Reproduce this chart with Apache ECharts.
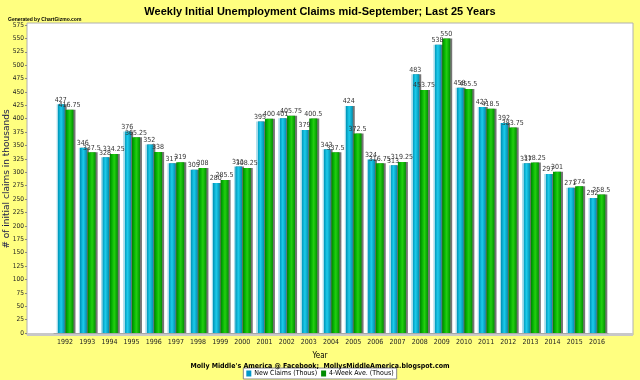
<!DOCTYPE html>
<html>
<head>
<meta charset="utf-8">
<script src="https://cdn.jsdelivr.net/npm/echarts@6/dist/echarts.min.js"></script>
<style>html,body{margin:0;padding:0;background:#ffff80;}#c{width:640px;height:380px;}</style>
</head>
<body>
<div id="c"></div>
<script>
var years = ['1992','1993','1994','1995','1996','1997','1998','1999','2000','2001','2002','2003','2004','2005','2006','2007','2008','2009','2010','2011','2012','2013','2014','2015','2016'];
var newClaims = [427,346,328,376,352,317,305,280,311,395,401,379,343,424,324,313,483,538,458,422,392,317,297,271,252];
var fourWeekAvg = [416.75,337.5,334.25,365.25,338,319,308,285.5,308.25,400,405.75,400.5,337.5,372.5,316.75,319.25,453.75,550,455.5,418.5,383.75,318.25,301,274,258.5];
var seriesNames = ['New Claims (Thous)','4-Week Ave. (Thous)'];

var chart = echarts.init(document.getElementById('c'), null, {renderer:'canvas'});
var blueGrad = new echarts.graphic.LinearGradient(0,0,1,0,[
  {offset:0,color:'#a8dcea'},{offset:0.18,color:'#a8dcea'},{offset:0.2,color:'#0098bb'},
  {offset:0.55,color:'#1ccbeb'},{offset:1,color:'#0090b0'}]);
var greenGrad = new echarts.graphic.LinearGradient(0,0,1,0,[
  {offset:0,color:'#007f00'},{offset:0.2,color:'#00a800'},
  {offset:0.55,color:'#22d010'},{offset:1,color:'#009000'}]);
var lbl = {show:true, position:'top', distance:1, fontSize:7, color:'#333', fontFamily:'DejaVu Sans Condensed'};
chart.setOption({
  backgroundColor:'#ffff80',
  animation:false,
  title:[{text:'Weekly Initial Unemployment Claims mid-September; Last 25 Years', left:'center', top:1,
    textStyle:{fontSize:11, fontWeight:'bold', color:'#000', fontFamily:'Liberation Sans'}},
    {text:'Generated by ChartGizmo.com', left:3, top:12, textStyle:{fontSize:5, fontWeight:'bold', color:'#000', fontFamily:'Liberation Sans'}},
    {text:'Year', left:'center', top:347, textStyle:{fontSize:8, fontWeight:'normal', color:'#000', fontFamily:'DejaVu Sans Condensed'}},
    {text:"Molly Middle's America @ Facebook;  MollysMiddleAmerica.blogspot.com", left:'center', top:358,
      textStyle:{fontSize:7, fontWeight:'bold', color:'#000', fontFamily:'DejaVu Sans Condensed'}}],
  graphic:[{type:'rect', z:-10, silent:true, shape:{x:27,y:23,width:606,height:312}, style:{fill:'#fff', stroke:'#b0b0b0', lineWidth:1}},
           {type:'rect', z:-9, silent:true, shape:{x:27,y:333,width:606,height:3}, style:{fill:'#c8c8c8'}}],
  legend:{bottom:1, left:'center', itemWidth:5, itemHeight:6, itemGap:4, padding:[2,3],
    backgroundColor:'#fff', borderColor:'#888', borderWidth:1,
    textStyle:{fontSize:7, color:'#000', fontFamily:'DejaVu Sans Condensed', padding:[0,0,0,-2]},
    data:[{name:seriesNames[0], icon:'rect', itemStyle:{color:'#0098c8'}},{name:seriesNames[1], icon:'rect', itemStyle:{color:'#008c00'}}]},
  grid:{left:54, right:32, top:25, bottom:47, containLabel:false, outerBoundsMode:'none'},
  xAxis:{type:'category', data:years,
    axisLine:{show:true, lineStyle:{color:'#a8a8a8', width:1}}, axisTick:{show:false},
    axisLabel:{fontSize:7, color:'#222', margin:6, fontFamily:'DejaVu Sans Condensed'}},
  yAxis:{type:'value', min:0, max:575, interval:25, offset:27,
    axisLine:{show:false}, axisTick:{show:true, length:2, lineStyle:{color:'#888'}},
    splitLine:{show:false},
    axisLabel:{fontSize:6.5, color:'#222', margin:3, fontFamily:'DejaVu Sans Condensed'},
    name:'# of initial claims in thousands', nameLocation:'middle', nameGap:20, nameRotate:90, nameMoveOverlap:false,
    nameTextStyle:{fontSize:9, color:'#1a1a4a', fontFamily:'DejaVu Sans', verticalAlign:'middle'}},
  series:[
    {name:seriesNames[0], type:'bar', data:newClaims, barWidth:8, barGap:'10%',
     itemStyle:{color:blueGrad, shadowColor:'rgba(70,70,70,0.75)', shadowOffsetX:2, shadowOffsetY:0, shadowBlur:0},
     label:lbl},
    {name:seriesNames[1], type:'bar', data:fourWeekAvg, barWidth:8,
     itemStyle:{color:greenGrad, shadowColor:'rgba(70,70,70,0.75)', shadowOffsetX:2, shadowOffsetY:0, shadowBlur:0},
     label:lbl}
  ]
});
</script>
</body>
</html>
